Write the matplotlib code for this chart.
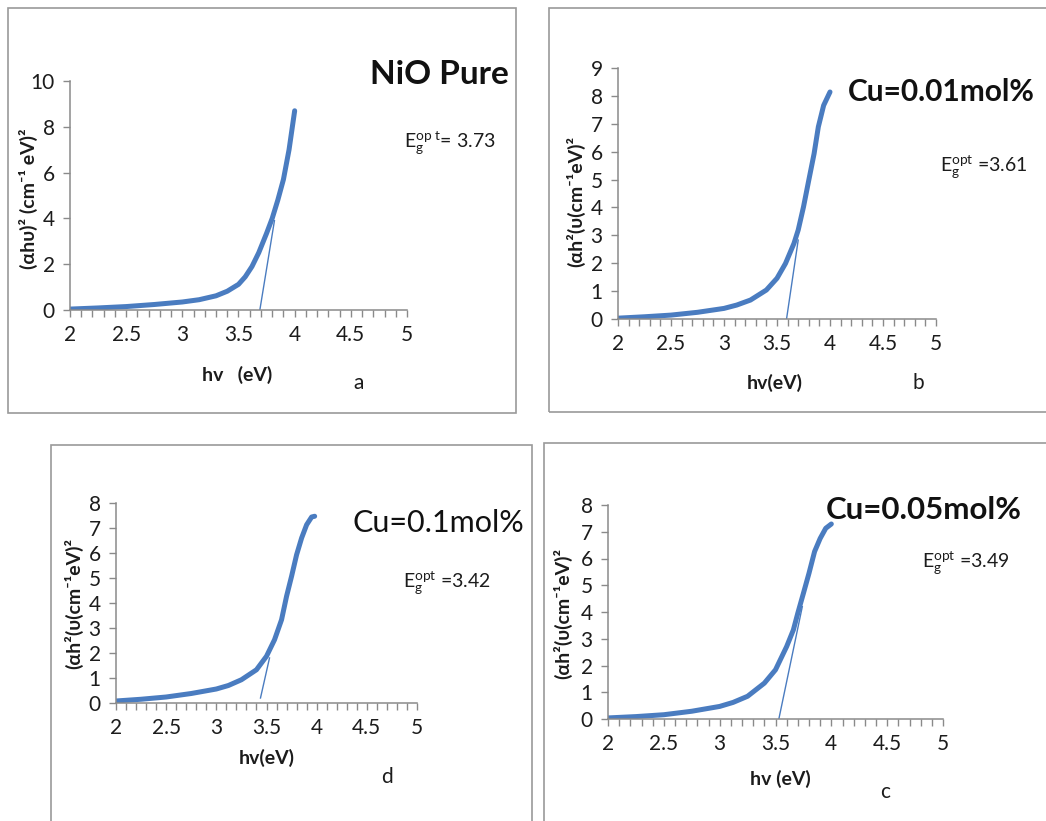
import matplotlib
matplotlib.use("Agg")
import matplotlib.pyplot as plt
from matplotlib.patches import Rectangle
from matplotlib.ticker import MultipleLocator, FuncFormatter

# ---------------- data ----------------
a_x = [2.0, 2.25, 2.5, 2.75, 3.0, 3.15, 3.3, 3.4, 3.5, 3.56, 3.62, 3.68, 3.75, 3.8, 3.85, 3.9, 3.95, 4.0]
a_y = [0.04, 0.09, 0.15, 0.24, 0.35, 0.45, 0.62, 0.82, 1.12, 1.45, 1.9, 2.5, 3.35, 4.0, 4.8, 5.7, 7.0, 8.7]
a_tan_x = [3.69, 3.82]
a_tan_y = [0.0, 3.9]

b_x = [2.0, 2.25, 2.5, 2.75, 3.0, 3.12, 3.25, 3.4, 3.5, 3.58, 3.66, 3.7, 3.75, 3.8, 3.85, 3.89, 3.94, 4.0]
b_y = [0.03, 0.08, 0.14, 0.24, 0.38, 0.5, 0.68, 1.04, 1.46, 1.99, 2.71, 3.19, 4.02, 4.98, 5.93, 6.89, 7.66, 8.14]
b_tan_x = [3.59, 3.70]
b_tan_y = [0.0, 2.83]

d_x = [2.0, 2.25, 2.5, 2.75, 3.0, 3.12, 3.25, 3.4, 3.5, 3.58, 3.65, 3.7, 3.75, 3.8, 3.85, 3.9, 3.95, 3.98]
d_y = [0.08, 0.15, 0.24, 0.38, 0.56, 0.7, 0.93, 1.33, 1.87, 2.53, 3.33, 4.27, 5.07, 5.93, 6.6, 7.13, 7.44, 7.47]
d_tan_x = [3.44, 3.53]
d_tan_y = [0.2, 1.8]

c_x = [2.0, 2.25, 2.5, 2.75, 3.0, 3.12, 3.25, 3.4, 3.5, 3.6, 3.66, 3.7, 3.75, 3.8, 3.85, 3.9, 3.95, 4.0]
c_y = [0.04, 0.09, 0.16, 0.29, 0.47, 0.62, 0.85, 1.34, 1.84, 2.71, 3.33, 3.96, 4.7, 5.45, 6.26, 6.75, 7.13, 7.29]
c_tan_x = [3.53, 3.74]
c_tan_y = [0.0, 4.2]

titles = ["NiO Pure", "Cu=0.01mol%", "Cu=0.1mol%", "Cu=0.05mol%"]
eg_values = ["3.73", "3.61", "3.42", "3.49"]
xlabels = ["hv   (eV)", "hv(eV)", "hv(eV)", "hv (eV)"]
ylabels = ["(αhυ)² (cm⁻¹ eV)²", "(αh²(υ(cm⁻¹eV)²", "(αh²(υ(cm⁻¹eV)²", "(αh²(υ(cm⁻¹eV)²"]
letters = ["a", "b", "d", "c"]
ymaxes = [10, 9, 8, 8]
ysteps = [2, 1, 1, 1]

# ---------------- style ----------------
plt.rcParams['font.family'] = ['Lato', 'DejaVu Sans']
plt.rcParams['mathtext.fontset'] = 'custom'
plt.rcParams['mathtext.rm'] = 'Lato'
plt.rcParams['mathtext.it'] = 'Lato'
BLUE = '#4a7cc0'
TXT = '#1c1c1c'
GREY = '#8a8a8a'

W, H = 1046, 821
fig = plt.figure(figsize=(W / 100, H / 100), dpi=100)


def fx(x):
    return x / W


def fy(y):
    return 1 - y / H


# frames (pixel boxes)
frames = [(8, 8, 516, 413), (549, 8, 1060, 412), (51, 445, 532, 840), (544, 443, 1060, 840)]
for x0, y0, x1, y1 in frames:
    fig.patches.append(Rectangle((fx(x0), fy(y1)), fx(x1) - fx(x0), fy(y0) - fy(y1),
                                 transform=fig.transFigure, fill=False,
                                 edgecolor='#9a9a9a', lw=1.2))

# axes boxes in pixels: (x_at_2, x_at_5, y_at_0, y_at_max)
axboxes = [(70, 407, 310, 81), (618, 936, 319, 68), (116, 417, 703, 503), (608, 943, 719, 505)]
series = [(a_x, a_y, a_tan_x, a_tan_y), (b_x, b_y, b_tan_x, b_tan_y),
          (d_x, d_y, d_tan_x, d_tan_y), (c_x, c_y, c_tan_x, c_tan_y)]

title_pos = [(370, 75), (848, 92), (353, 523), (826, 510)]
title_size = [24, 21.5, 22, 22.5]
title_weight = ['bold', 'bold', 'normal', 'bold']
eg_pos = [(404, 142), (940, 166), (403, 582), (922, 562)]
eg_lbl = [r'E$_\mathregular{g}^\mathregular{op\ t}$= ', r'E$_\mathregular{g}^\mathregular{opt}$ =',
          r'E$_\mathregular{g}^\mathregular{opt}$ =', r'E$_\mathregular{g}^\mathregular{opt}$ =']
xl_pos = [(237, 375), (775, 383), (267, 758), (780, 779)]
let_pos = [(359, 383), (918, 383), (387, 777), (885, 792)]
yl_pos = [(28, 199), (576, 201), (74, 603), (563, 613)]

for i in range(4):
    x0, x1, y0, y1 = axboxes[i]
    ax = fig.add_axes([fx(x0), fy(y0), fx(x1) - fx(x0), fy(y1) - fy(y0)])
    sx, sy, tx, ty = series[i]
    ax.plot(sx, sy, color=BLUE, lw=3.6, solid_capstyle='round', solid_joinstyle='round')
    ax.plot(tx, ty, color=BLUE, lw=1.0)
    ax.set_xlim(2, 5)
    ax.set_ylim(0, ymaxes[i])
    ax.xaxis.set_major_locator(MultipleLocator(0.5))
    ax.xaxis.set_minor_locator(MultipleLocator(0.1))
    ax.yaxis.set_major_locator(MultipleLocator(ysteps[i]))
    for s in ['top', 'right']:
        ax.spines[s].set_visible(False)
    for s in ['left', 'bottom']:
        ax.spines[s].set_color(GREY)
        ax.spines[s].set_linewidth(1.1)
    ax.tick_params(axis='x', which='both', direction='out', length=5, width=1,
                   color=GREY, labelsize=15, labelcolor=TXT, pad=6)
    ax.tick_params(axis='y', which='major', direction='out', length=5, width=1,
                   color=GREY, labelsize=15, labelcolor=TXT, pad=6)
    ax.xaxis.set_major_formatter(FuncFormatter(lambda v, p: f"{v:g}"))
    ax.patch.set_alpha(0)

    tx_, ty_ = title_pos[i]
    fig.text(fx(tx_), fy(ty_), titles[i], fontsize=title_size[i], fontweight=title_weight[i],
             color='#111111', ha='left', va='center')
    ex, ey = eg_pos[i]
    fig.text(fx(ex), fy(ey), eg_lbl[i] + eg_values[i], fontsize=14, color=TXT,
             ha='left', va='center')
    lx, ly = xl_pos[i]
    fig.text(fx(lx), fy(ly), xlabels[i], fontsize=14, fontweight='bold', color=TXT,
             ha='center', va='center')
    qx, qy = let_pos[i]
    fig.text(fx(qx), fy(qy), letters[i], fontsize=15, color=TXT, ha='center', va='center')
    vx, vy = yl_pos[i]
    fig.text(fx(vx), fy(vy), ylabels[i], fontsize=14, fontweight='bold', color=TXT,
             ha='center', va='center', rotation=90)

fig.savefig('out.png', dpi=100, facecolor='white')
